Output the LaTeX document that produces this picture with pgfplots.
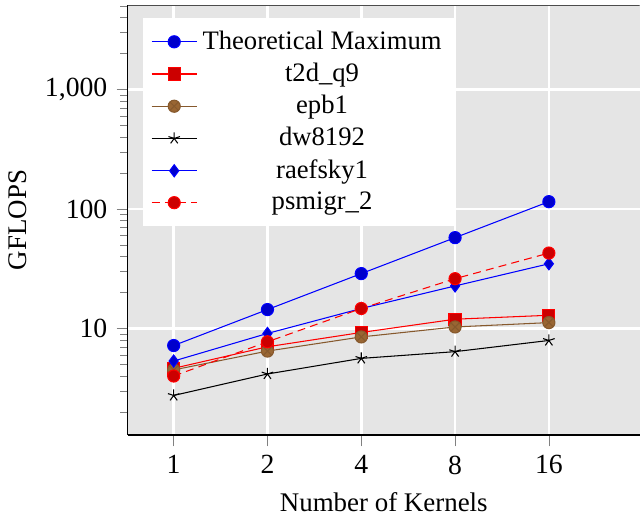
\documentclass[border=0pt]{standalone}
\usepackage{fontspec}
\setmainfont{Liberation Serif}
\usepackage{pgfplots}
\pgfplotsset{compat=1.18}

\definecolor{bggray}{RGB}{229,229,229}

\begin{document}
\begin{tikzpicture}
\begin{axis}[
    name=main,
    scale only axis,
    width=194pt, height=163pt,
    xmode=log, log basis x=2,
    ymode=log,
    xmin=0.713, xmax=31.3,
    ymin=1.283, ymax=5100,
    xtick={1,2,4,8,16},
    xticklabels={1,2,4,8,16},
    minor x tick num=0,
    log ticks with fixed point,
    /pgf/number format/assume math mode=true,
    axis lines*=left,
    tick align=outside,
    tick pos=left,
    axis background/.style={fill=bggray},
    grid=major,
    major grid style={white, line width=1pt},
    xlabel={Number of Kernels},
    ylabel={GFLOPS},
    mark size=2.3pt,
    legend cell align=center,
    legend style={at={(0.029,0.97)}, anchor=north west, draw=none, fill=white,
        row sep=-0.3pt, inner ysep=2.6pt, font=\fontsize{10.1}{12}\selectfont},
    every axis label/.append style={font=\fontsize{10.2}{12}\selectfont},
    tick label style={font=\fontsize{10.5}{12}\selectfont},
]
\addplot[blue, mark=*, mark options={fill=blue!80!black}] coordinates {
    (1,7.2) (2,14.4) (4,28.8) (8,57.6) (16,115.2)
};
\addlegendentry{Theoretical Maximum}
\addplot[red, mark=square*, mark options={fill=red!80!black}] coordinates {
    (1,4.64) (2,7.03) (4,9.26) (8,11.96) (16,12.9)
};
\addlegendentry{t2d\_q9}
\addplot[brown!70!black, mark=otimes*, mark options={fill=brown!80!black}] coordinates {
    (1,4.5) (2,6.47) (4,8.5) (8,10.3) (16,11.2)
};
\addlegendentry{epb1}
\addplot[black, mark=star] coordinates {
    (1,2.75) (2,4.16) (4,5.62) (8,6.4) (16,7.94)
};
\addlegendentry{dw8192}
\addplot[blue, mark=diamond*, mark options={fill=blue!80!black}] coordinates {
    (1,5.34) (2,9.09) (4,14.7) (8,22.7) (16,34.8)
};
\addlegendentry{raefsky1}
\addplot[red, densely dashed, mark=*, mark options={solid, fill=red!80!black}] coordinates {
    (1,4.0) (2,7.74) (4,14.7) (8,26.1) (16,42.8)
};
\addlegendentry{psmigr\_2}
\draw[black!70] (rel axis cs:0,1) -- (rel axis cs:1,1);
\end{axis}
\path (main.north) ++(0,1.9pt);
\end{tikzpicture}
\end{document}
